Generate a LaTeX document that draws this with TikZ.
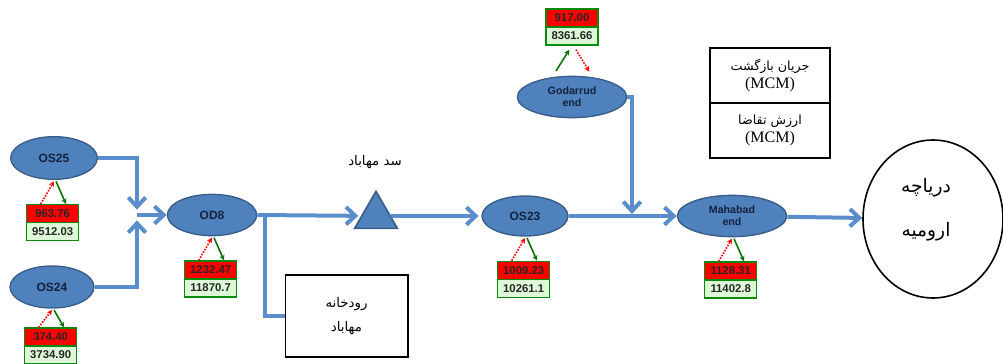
\documentclass[tikz,border=0pt]{standalone}
\usepackage{fontspec}
\setmainfont{Liberation Serif}
\setsansfont{Liberation Sans}
\newfontfamily\fafont[Script=Arabic]{DejaVu Sans}
\TeXXeTstate=1
\usetikzlibrary{arrows.meta,positioning,calc,shapes.geometric}
\definecolor{stnblue}{HTML}{4F81BD}
\definecolor{rim}{HTML}{385D8A}
\definecolor{flow}{HTML}{5A8DCC}
\definecolor{lbl}{HTML}{14213D}
\definecolor{demand}{HTML}{FF0000}
\definecolor{retfill}{HTML}{DDF8D6}
\definecolor{retline}{HTML}{0A8A0A}

\begin{document}
\begin{tikzpicture}[x=.75pt,y=-.75pt,>={Straight Barb[length=7pt,width=13pt]},
 stn/.style={ellipse,draw=rim,line width=1pt,fill=stnblue,inner sep=0pt,align=center,text=lbl,font=\sffamily\bfseries\fontsize{9}{10}\selectfont},
 flw/.style={draw=flow,line width=3pt,->},
 val/.style={draw=retline,line width=1pt,minimum width=39pt,minimum height=13.5pt,inner sep=0pt,text=black!85,font=\sffamily\bfseries\fontsize{8.5}{9}\selectfont},
 dem/.style={red,densely dotted,line width=1.2pt,-{Stealth[length=4pt,width=4pt]}},
 ret/.style={retline!85!black,line width=1.2pt,-{Stealth[length=4pt,width=4pt]}},
 fa/.style={align=center,font=\fafont\fontsize{10}{18}\selectfont}]
 \useasboundingbox (0,0) rectangle (1003,364);
 \node[stn,minimum width=65pt,minimum height=32pt] (os25) at (54,158) {OS25};
 \node[stn,minimum width=63pt,minimum height=31.5pt] (os24) at (52,287) {OS24};
 \node[stn,minimum width=67pt,minimum height=31pt] (od8) at (212,215) {OD8};
 \node[stn,minimum width=64.5pt,minimum height=30pt] (os23) at (525,216) {OS23};
 \node[stn,minimum width=82pt,minimum height=31pt,font=\sffamily\bfseries\fontsize{8}{9}\selectfont] (god) at (572,97) {Godarrud\\end};
 \node[stn,minimum width=82pt,minimum height=31pt,font=\sffamily\bfseries\fontsize{8}{9}\selectfont] (mah) at (732,216) {Mahabad\\end};
 \node[regular polygon,regular polygon sides=3,draw=rim,line width=1.2pt,fill=stnblue,minimum size=37pt,inner sep=0pt] (dam) at (376,216) {};
 \node[fa] (damlbl) at (375,162) {\beginR سد مهاباد\endR};
 \node[draw,line width=1pt,minimum width=92pt,minimum height=61.5pt,fa] (rud) at (346.5,316) {\beginR رودخانه\endR\\\beginR مهاباد\endR};
 \node[ellipse,draw,line width=1.2pt,minimum width=105pt,minimum height=118.5pt,fa,font=\fafont\fontsize{14}{33}\selectfont] (lake) at (933,219) {};
 \node[fa,font=\fafont\fontsize{14}{33}\selectfont] (laketxt) at (926,210) {\beginR دریاچه\endR\\\beginR ارومیه\endR};
 \node[draw,line width=1pt,minimum width=90pt,minimum height=41.25pt,fa,font=\fafont\fontsize{9.5}{13}\selectfont] (leg1) at (770,75.5) {\beginR جریان بازگشت\endR\\{\rmfamily\fontsize{12}{13}\selectfont(MCM)}};
 \node[draw,line width=1pt,minimum width=90pt,minimum height=41.25pt,below=-1pt of leg1,fa,font=\fafont\fontsize{9.5}{13}\selectfont] (leg2) {\beginR ارزش تقاضا\endR\\{\rmfamily\fontsize{12}{13}\selectfont(MCM)}};
 \coordinate (j1) at (137,215);
 \coordinate (br) at (265,215);
 \coordinate (j2) at (632,214);
 \draw[flw,shorten >=4pt] (os25.east) -| (j1);
 \draw[flw,shorten >=4pt] (os24.east) -| (j1);
 \draw[flw] (j1) -- (od8.west);
 \draw[flw,shorten >=2pt] (od8.east) -- (dam);
 \draw[flw,-] (br) |- (rud.west);
 \draw[flw,shorten >=2pt] (dam) -- (os23);
 \draw[flw] (os23) -- (mah);
 \draw[flw] (god.east) -| (j2);
 \draw[flw] (mah) -- (lake);
 \foreach \e/\g/\d/\r in {os25/18/963.76/9512.03,os24/14/374.40/3734.90,od8/18/1232.47/11870.7,os23/18/1009.23/10261.1,mah/18/1128.31/11402.8}{
  \node[val,fill=demand,below=\g pt of \e.south,xshift=-1pt] (\e-d) {\d};
  \node[val,fill=retfill,below=-1pt of \e-d] (\e-r) {\r};
  \draw[dem] ([xshift=-9pt]\e-d.north) -- ([yshift=-1pt]\e.south);
  \draw[ret] ([xshift=1.5pt,yshift=-1pt]\e.south) -- ([xshift=10pt]\e-d.north);}
 \node[val,fill=retfill,above=22.5pt of god.north] (god-r) {8361.66};
 \node[val,fill=demand,above=-1pt of god-r] (god-d) {917.00};
 \draw[ret] ([xshift=-12pt,yshift=3.5pt]god.north) -- ([xshift=-2pt,yshift=-3pt]god-r.south);
 \draw[dem] ([xshift=3pt,yshift=-3pt]god-r.south) -- ([xshift=13pt,yshift=3pt]god.north);
\end{tikzpicture}
\end{document}
